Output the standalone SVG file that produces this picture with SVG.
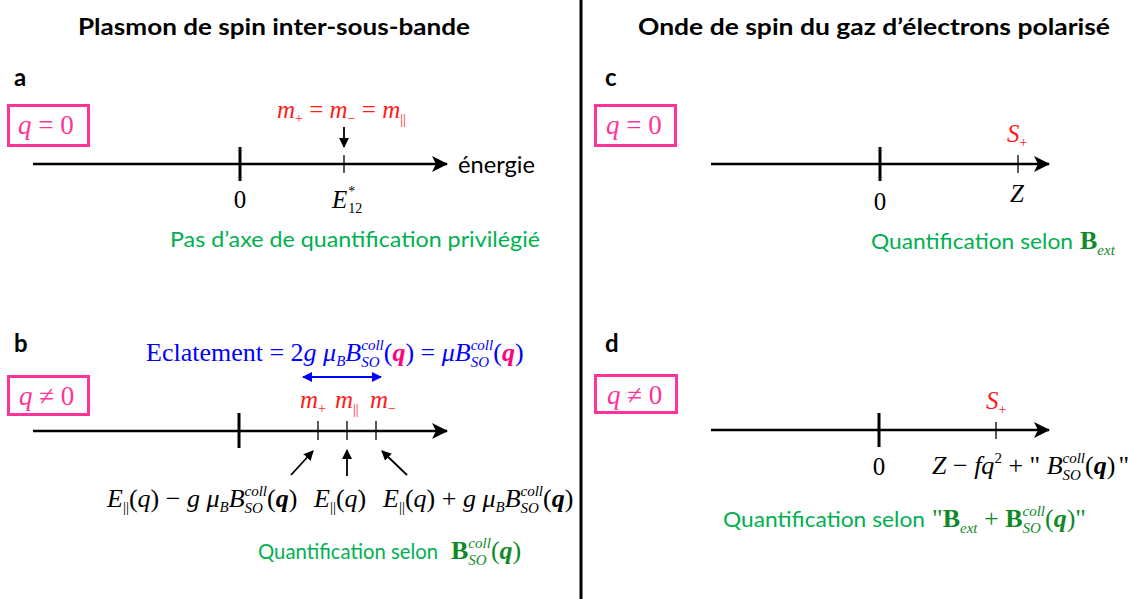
<svg xmlns="http://www.w3.org/2000/svg" width="1129" height="599" viewBox="0 0 1129 599">
<defs>
<style>
.m{font-family:"Liberation Serif","Times New Roman",serif;}
.c{font-family:Lato,"Liberation Sans",sans-serif;}
.i{font-style:italic;}
.b{font-weight:bold;}
.box{fill:#fff;stroke:#ff3399;stroke-width:3;}
.pk{fill:#ff3399;}
.red{fill:#ff1a1a;}
.gr{fill:#00b050;}
.dg{fill:#108a28;}
.axis{stroke:#000;stroke-width:2.5;fill:none;marker-end:url(#ah);}
.tk{stroke:#000;stroke-width:3;}
.tn{stroke:#000;stroke-width:1.3;}
.sa{stroke:#000;stroke-width:1.8;fill:none;marker-end:url(#sh);}
</style>
<marker id="ah" markerUnits="userSpaceOnUse" markerWidth="18" markerHeight="18" refX="15" refY="8" orient="auto"><path d="M0,0 L16,8 L0,16 L4,8 Z" fill="#000"/></marker>
<marker id="sh" markerUnits="userSpaceOnUse" markerWidth="12" markerHeight="12" refX="9" refY="5" orient="auto"><path d="M0,0 L10,5 L0,10 Z" fill="#000"/></marker>
<marker id="bh" markerUnits="userSpaceOnUse" markerWidth="12" markerHeight="12" refX="9" refY="5" orient="auto-start-reverse"><path d="M0,0 L10,5 L0,10 Z" fill="#0000ff"/></marker>
</defs>
<rect width="1129" height="599" fill="#fff"/>
<line x1="581" y1="0" x2="581" y2="599" stroke="#000" stroke-width="3"/>
<text class="c b" x="274" y="35" font-size="22" text-anchor="middle" textLength="392" lengthAdjust="spacingAndGlyphs">Plasmon de spin inter-sous-bande</text>
<text class="c b" x="874" y="35" font-size="22" text-anchor="middle" textLength="472" lengthAdjust="spacingAndGlyphs">Onde de spin du gaz d’électrons polarisé</text>

<g id="connectors">
<line class="axis" x1="33" y1="164" x2="447" y2="164"/>
<line class="axis" x1="33" y1="431" x2="447" y2="431"/>
<line class="axis" x1="711" y1="164" x2="1049" y2="164"/>
<line class="axis" x1="711" y1="430" x2="1049" y2="430"/>
<line class="sa" x1="344" y1="127" x2="344" y2="147"/>
<line class="sa" x1="291" y1="475" x2="313" y2="451"/>
<line class="sa" x1="347" y1="476" x2="347" y2="450"/>
<line class="sa" x1="407" y1="475" x2="382" y2="451"/>
<line x1="303" y1="377" x2="381" y2="377" stroke="#0000ff" stroke-width="2.2" marker-start="url(#bh)" marker-end="url(#bh)"/>
</g>

<g id="panel-a">
<text class="c b" x="14" y="86" font-size="24">a</text>
<rect class="box" x="8.5" y="105.5" width="80" height="40"/>
<text class="m pk" x="18" y="134" font-size="27"><tspan class="i">q</tspan> = 0</text>
<text class="m red" x="277" y="118" font-size="25"><tspan class="i">m</tspan><tspan font-size="14" dy="5">+</tspan><tspan dy="-5"> = </tspan><tspan class="i">m</tspan><tspan font-size="14" dy="5">−</tspan><tspan dy="-5"> = </tspan><tspan class="i">m</tspan><tspan font-size="14" dy="6">||</tspan></text>
<line class="tk" x1="240" y1="147" x2="240" y2="181"/>
<line class="tn" x1="344" y1="155" x2="344" y2="173"/>
<text class="m" x="240" y="208" font-size="25" text-anchor="middle">0</text>
<text class="m" x="332" y="208" font-size="25"><tspan class="i">E</tspan><tspan font-size="14" dx="1" dy="-12">*</tspan><tspan font-size="14" dx="-7" dy="17">12</tspan></text>
<text class="c" x="458" y="173" font-size="24" textLength="77" lengthAdjust="spacingAndGlyphs">énergie</text>
<text class="c gr" x="170" y="247" font-size="22" textLength="370" lengthAdjust="spacingAndGlyphs">Pas d’axe de quantification privilégié</text>
</g>

<g id="panel-b">
<text class="c b" x="14" y="352" font-size="24">b</text>
<text class="m" x="146" y="361" font-size="26" fill="#0000ff">Eclatement = 2<tspan class="i">g</tspan> <tspan class="i">μ</tspan><tspan class="i" font-size="15" dy="5">B</tspan><tspan class="i" dy="-5">B</tspan><tspan class="i" font-size="15" dy="-11">coll</tspan><tspan class="i" font-size="15" dx="-22.5" dy="17">SO</tspan><tspan dx="4.2" dy="-6">(</tspan><tspan class="i b" fill="#ff0080">q</tspan>) = <tspan class="i">μB</tspan><tspan class="i" font-size="15" dy="-11">coll</tspan><tspan class="i" font-size="15" dx="-22.5" dy="17">SO</tspan><tspan dx="4.2" dy="-6">(</tspan><tspan class="i b" fill="#ff0080">q</tspan>)</text>
<rect class="box" x="8.5" y="376.5" width="80" height="38"/>
<text class="m pk" x="19" y="405" font-size="27"><tspan class="i">q</tspan> ≠ 0</text>
<text class="m red" x="300" y="408" font-size="25"><tspan class="i">m</tspan><tspan font-size="14" dy="5">+</tspan></text>
<text class="m red" x="335" y="408" font-size="25"><tspan class="i">m</tspan><tspan font-size="14" dy="6">||</tspan></text>
<text class="m red" x="370" y="408" font-size="25"><tspan class="i">m</tspan><tspan font-size="14" dy="5">−</tspan></text>
<line class="tk" x1="239" y1="413" x2="239" y2="448"/>
<line class="tn" x1="318" y1="421" x2="318" y2="440"/>
<line class="tn" x1="347" y1="421" x2="347" y2="440"/>
<line class="tn" x1="376" y1="421" x2="376" y2="440"/>
<text class="m" x="107" y="507" font-size="26"><tspan class="i">E</tspan><tspan font-size="15" dy="5">||</tspan><tspan dy="-5">(</tspan><tspan class="i">q</tspan>) − <tspan class="i">g</tspan> <tspan class="i">μ</tspan><tspan class="i" font-size="15" dy="5">B</tspan><tspan class="i" dy="-5">B</tspan><tspan class="i" font-size="15" dy="-11">coll</tspan><tspan class="i" font-size="15" dx="-22.5" dy="17">SO</tspan><tspan dx="4.2" dy="-6">(</tspan><tspan class="i b">q</tspan>)</text>
<text class="m" x="314" y="507" font-size="26"><tspan class="i">E</tspan><tspan font-size="15" dy="5">||</tspan><tspan dy="-5">(</tspan><tspan class="i">q</tspan>)</text>
<text class="m" x="383" y="507" font-size="26"><tspan class="i">E</tspan><tspan font-size="15" dy="5">||</tspan><tspan dy="-5">(</tspan><tspan class="i">q</tspan>) + <tspan class="i">g</tspan> <tspan class="i">μ</tspan><tspan class="i" font-size="15" dy="5">B</tspan><tspan class="i" dy="-5">B</tspan><tspan class="i" font-size="15" dy="-11">coll</tspan><tspan class="i" font-size="15" dx="-22.5" dy="17">SO</tspan><tspan dx="4.2" dy="-6">(</tspan><tspan class="i b">q</tspan>)</text>
<text class="c gr" x="258" y="559" font-size="22" textLength="180" lengthAdjust="spacingAndGlyphs">Quantification selon</text>
<text class="m dg" x="451" y="559" font-size="26"><tspan class="b">B</tspan><tspan class="i" font-size="15" dy="-11">coll</tspan><tspan class="i" font-size="15" dx="-22.5" dy="17">SO</tspan><tspan dx="4.2" dy="-6">(</tspan><tspan class="i b">q</tspan>)</text>
</g>

<g id="panel-c">
<text class="c b" x="605" y="86" font-size="24">c</text>
<rect class="box" x="595.5" y="105.5" width="80" height="40"/>
<text class="m pk" x="606" y="134" font-size="27"><tspan class="i">q</tspan> = 0</text>
<line class="tk" x1="880" y1="147" x2="880" y2="181"/>
<line class="tn" x1="1018" y1="155" x2="1018" y2="173"/>
<text class="m red" x="1007" y="142" font-size="25"><tspan class="i">S</tspan><tspan font-size="14" dy="5">+</tspan></text>
<text class="m" x="880" y="210" font-size="25" text-anchor="middle">0</text>
<text class="m i" x="1017" y="202" font-size="25" text-anchor="middle">Z</text>
<text class="c gr" x="871" y="249" font-size="22" textLength="202" lengthAdjust="spacingAndGlyphs">Quantification selon</text>
<text class="m dg" x="1080" y="249" font-size="26"><tspan class="b">B</tspan><tspan class="i" font-size="15" dy="6">ext</tspan></text>
</g>

<g id="panel-d">
<text class="c b" x="605" y="352" font-size="24">d</text>
<rect class="box" x="595.5" y="375.5" width="81" height="37"/>
<text class="m pk" x="607" y="404" font-size="27"><tspan class="i">q</tspan> ≠ 0</text>
<line class="tk" x1="879" y1="413" x2="879" y2="447"/>
<line class="tn" x1="996" y1="422" x2="996" y2="439"/>
<text class="m red" x="986" y="409" font-size="25"><tspan class="i">S</tspan><tspan font-size="14" dy="5">+</tspan></text>
<text class="m" x="879" y="475" font-size="25" text-anchor="middle">0</text>
<text class="m" x="932" y="474" font-size="26"><tspan class="i">Z</tspan> − <tspan class="i">fq</tspan><tspan font-size="15" dy="-11">2</tspan><tspan dy="11"> + " </tspan><tspan class="i">B</tspan><tspan class="i" font-size="15" dy="-11">coll</tspan><tspan class="i" font-size="15" dx="-22.5" dy="17">SO</tspan><tspan dx="4.2" dy="-6">(</tspan><tspan class="i b">q</tspan><tspan>)</tspan><tspan dx="3">"</tspan></text>
<text class="c gr" x="723" y="527" font-size="22" textLength="202" lengthAdjust="spacingAndGlyphs">Quantification selon</text>
<text class="m dg" x="932" y="527" font-size="26">"<tspan class="b">B</tspan><tspan class="i" font-size="15" dy="6">ext</tspan><tspan dy="-6"> + </tspan><tspan class="b">B</tspan><tspan class="i" font-size="15" dy="-11">coll</tspan><tspan class="i" font-size="15" dx="-22.5" dy="17">SO</tspan><tspan dx="4.2" dy="-6">(</tspan><tspan class="i b">q</tspan>)"</text>
</g>
</svg>
